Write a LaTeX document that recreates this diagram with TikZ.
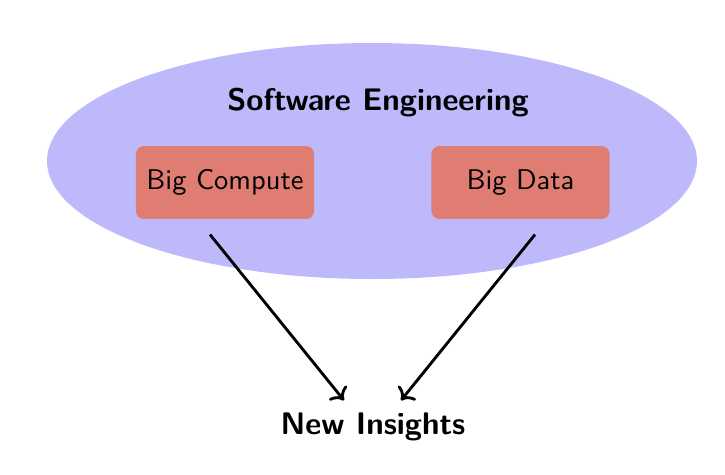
\documentclass[tikz,border=0pt]{standalone}
\usetikzlibrary{arrows.meta}
\definecolor{ellfill}{HTML}{BDB9FB}
\definecolor{boxfill}{HTML}{E07D72}
\begin{document}
\begin{tikzpicture}[x=0.3509pt,y=-0.3509pt,
  font=\sffamily,
  boxnode/.style={fill=boxfill,rounded corners=2.8pt,minimum width=62.5pt,minimum height=25.6pt,inner sep=0pt},
  titlenode/.style={font=\fontsize{10.95}{13}\selectfont\sffamily\bfseries,inner sep=0pt},
  conn/.style={->,line width=1pt}]
\useasboundingbox (0,0) rectangle (725,475);
\fill[ellfill] (372,161) ellipse [x radius=325pt*0.3509,y radius=118pt*0.3509];
\node[titlenode] (se) at (378,103) {Software Engineering};
\node[boxnode] (compute) at (225,182.5) {Big Compute};
\node[boxnode] (data) at (520.5,182.5) {Big Data};
\node[titlenode] (insights) at (373,427) {New Insights};
\draw[conn] ([xshift=-15*0.3509pt,yshift=-15*0.3509pt]compute.south) -- ([xshift=-29*0.3509pt,yshift=12*0.3509pt]insights.north);
\draw[conn] ([xshift=14.5*0.3509pt,yshift=-15*0.3509pt]data.south) -- ([xshift=28*0.3509pt,yshift=12*0.3509pt]insights.north);
\end{tikzpicture}
\end{document}
